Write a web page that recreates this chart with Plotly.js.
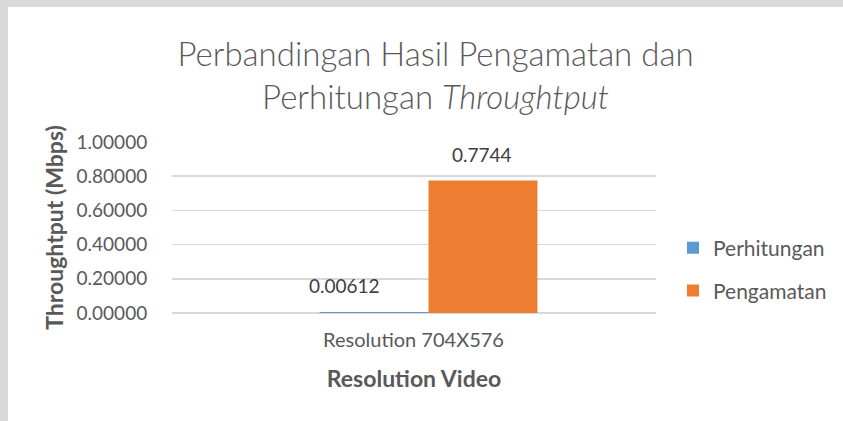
<!DOCTYPE html>
<html>
<head>
<meta charset="utf-8">
<script src="https://cdn.plot.ly/plotly-3.0.1.min.js"></script>
<style>
html,body{margin:0;padding:0;background:#d9d9d9;width:843px;height:421px;overflow:hidden;}
#chart{position:absolute;left:8px;top:7px;width:835px;height:414px;background:#fff;}
</style>
</head>
<body>
<div id="chart"></div>
<script>
var categories = ["Resolution 704X576"];
var seriesNames = ["Perhitungan", "Pengamatan"];
var perhitungan = [0.00612];
var pengamatan = [0.7744];
var labelTexts = [["0.00612"], ["0.7744"]];
var yTickVals = [0, 0.2, 0.4, 0.6, 0.8, 1.0];
var yTickText = ["0.00000", "0.20000", "0.40000", "0.60000", "0.80000", "1.00000"];

var txt = '#595959';
var font = 'Lato, "Open Sans", sans-serif';

var traces = [
  {type:'bar', name:seriesNames[0], x:categories, y:perhitungan, marker:{color:'#5b9bd5'}, legend:'legend', hoverinfo:'none'},
  {type:'bar', name:seriesNames[1], x:categories, y:pengamatan, marker:{color:'#ed7d31'}, legend:'legend2', hoverinfo:'none'}
];

var series = [perhitungan, pengamatan];
var labelShift = [-84, 53];
var annotations = [];
series.forEach(function(s, i){
  s.forEach(function(v, j){
    annotations.push({
      x: j, y: v, xref:'x', yref:'y',
      text: labelTexts[i][j], showarrow:false,
      xanchor:'center', yanchor:'bottom',
      xshift: labelShift[i], yshift: 13,
      font:{family:font, size:19, color:'#404040'}
    });
  });
});

var layout = {
  width:835, height:414,
  margin:{l:164, r:186, t:135, b:108},
  paper_bgcolor:'#ffffff', plot_bgcolor:'#ffffff',
  font:{family:font, color:txt, size:19},
  title:{
    text:'Perbandingan Hasil Pengamatan dan<br>Perhitungan <i>Throughtput</i>',
    font:{family:font, size:33, color:txt, weight:300},
    x:0.512, xanchor:'center', xref:'container',
    y:0.858, yanchor:'bottom', yref:'container'
  },
  barmode:'group',
  bargap:0.55, bargroupgap:0,
  xaxis:{
    type:'category', range:[-0.53, 0.47],
    showgrid:false, zeroline:false, showline:false,
    ticks:'outside', ticklen:9, tickcolor:'rgba(0,0,0,0)',
    ticklabelshift:-15,
    tickfont:{family:font, size:20, color:txt},
    title:{text:'<b>Resolution Video</b>', font:{family:font, size:23, color:txt}, standoff:20}
  },
  yaxis:{
    range:[0, 1.0], tickvals:yTickVals, ticktext:yTickText,
    showgrid:true, gridcolor:'#d9d9d9', gridwidth:1.5,
    zeroline:true, zerolinecolor:'#d9d9d9', zerolinewidth:1.5, showline:false,
    ticks:'outside', ticklen:20, tickcolor:'rgba(0,0,0,0)',
    tickfont:{family:font, size:19, color:txt},
    title:{text:'<b>Throughtput (Mbps)</b>', font:{family:font, size:23, color:txt}, standoff:6}
  },
  showlegend:true,
  legend:{x:1.033, xanchor:'left', y:0.38, yanchor:'middle', bgcolor:'rgba(0,0,0,0)', font:{family:font, size:21, color:txt}},
  legend2:{x:1.033, xanchor:'left', y:0.129, yanchor:'middle', bgcolor:'rgba(0,0,0,0)', font:{family:font, size:21, color:txt}},
  annotations:annotations
};

Plotly.newPlot('chart', traces, layout, {displayModeBar:false, staticPlot:true});
</script>
</body>
</html>
